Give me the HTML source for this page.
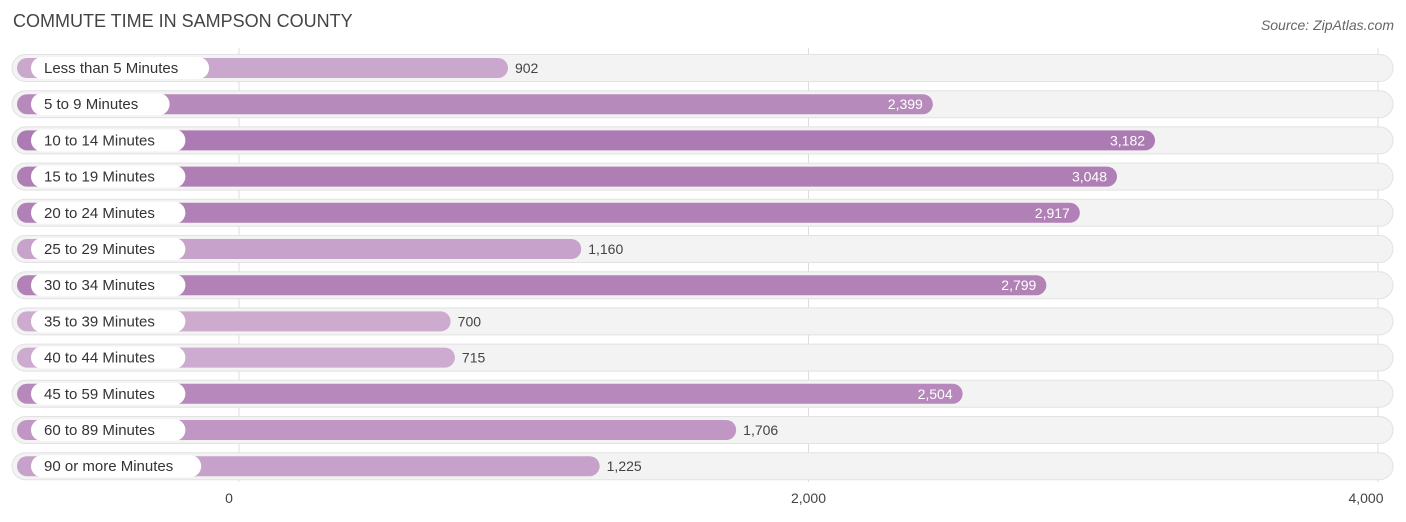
<!DOCTYPE html>
<html><head><meta charset="utf-8"><style>
body{margin:0;background:#fff;font-family:"Liberation Sans",sans-serif;}
svg{display:block}
</style></head><body>
<svg id="chart" width="1406" height="522" xmlns="http://www.w3.org/2000/svg">
<text x="13" y="27" font-size="18" fill="#444">COMMUTE TIME IN SAMPSON COUNTY</text>
<text x="1394" y="30" font-size="14" fill="#666" font-style="italic" text-anchor="end">Source: ZipAtlas.com</text>
<g id="grid"></g><g id="rows"></g><g id="ticks"></g>
</svg>
<script>
const categories=["Less than 5 Minutes","5 to 9 Minutes","10 to 14 Minutes","15 to 19 Minutes","20 to 24 Minutes","25 to 29 Minutes","30 to 34 Minutes","35 to 39 Minutes","40 to 44 Minutes","45 to 59 Minutes","60 to 89 Minutes","90 or more Minutes"];
const values=[902,2399,3182,3048,2917,1160,2799,700,715,2504,1706,1225];
const tickValues=[0,2000,4000];
const tickLabels=["0","2,000","4,000"];
const NS="http://www.w3.org/2000/svg";
function gx(v){return 239+v*0.28475;}
function bx(v){return 252+v*0.2838;}
function ry(i){return 68+i*36.2;}
function mk(t,a,p){const e=document.createElementNS(NS,t);for(const k in a)e.setAttribute(k,a[k]);p.appendChild(e);return e;}
const grid=document.getElementById('grid'),rows=document.getElementById('rows'),ticks=document.getElementById('ticks');
const maxV=Math.max(...values);
tickValues.forEach((v,i)=>{
 const l=mk('line',{x1:gx(v),x2:gx(v),y1:48,y2:482,stroke:'#ddd','stroke-width':1},grid);
 
 
 const t=mk('text',{x:gx(v)-(i==2?12:(i==0?10:0)),y:503,'font-size':14,fill:'#444','text-anchor':'middle'},ticks);
 t.textContent=tickLabels[i];
 
 
});
categories.forEach((c,i)=>{
 const y=ry(i),v=values[i];
 const g=mk('g',{},rows);
 
 
 const bg=mk('rect',{x:12,y:y-13.5,width:1381,height:27,rx:13.5,fill:'#f3f3f3',stroke:'#e2e2e2'},g);
 
 
 const f=v/maxV;
 const r=Math.round(214+(173-214)*f),gg=Math.round(184+(123-184)*f),b=Math.round(215+(179-215)*f);
 const end=bx(v);
 const bar=mk('rect',{x:17,y:y-10,width:end-17,height:20,rx:10,fill:`rgb(${r},${gg},${b})`},g);
 
 
 const lw=c.length*7.9+28;
 const pill=mk('rect',{x:31,y:y-11,width:lw,height:22,rx:11,fill:'#fff'},g);
 
 
 const lt=mk('text',{x:44,y:y+5,'font-size':15,fill:'#333'},g);
 lt.textContent=c;
 
 
 const inside=v>2000;
 const vt=mk('text',{x:inside?end-10:end+7,y:y+5,'font-size':14,fill:inside?'#fff':'#444','text-anchor':inside?'end':'start'},g);
 vt.textContent=v.toLocaleString('en-US');
 
 
});
</script>
</body></html>
